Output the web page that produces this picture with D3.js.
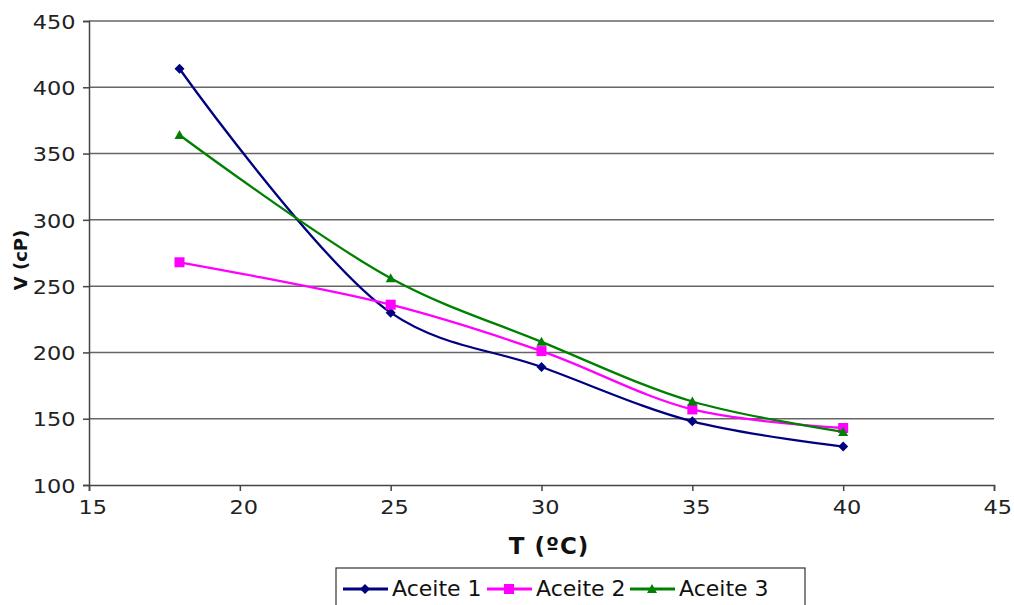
<!DOCTYPE html>
<html><head><meta charset="utf-8">
<script src="https://cdn.jsdelivr.net/npm/d3@7"></script>
<style>body{margin:0;background:#fff}svg{display:block}</style>
</head><body>
<svg id="c" width="1014" height="605"></svg>
<script>
const temps = [18, 25, 30, 35, 40];
const aceite1 = [414, 230, 189, 148, 129];
const aceite2 = [268, 236, 201, 157, 143];
const aceite3 = [364, 256, 208, 163, 140];
const seriesNames = ["Aceite 1", "Aceite 2", "Aceite 3"];
const seriesColors = ["#000080", "#ff00ff", "#008000"];
const seriesValues = [aceite1, aceite2, aceite3];
const xTicks = [15, 20, 25, 30, 35, 40, 45];
const yTicks = [100, 150, 200, 250, 300, 350, 400, 450];

const svg = d3.select("#c");
const L = 89, R = 994, T = 21, B = 485;
const x = d3.scaleLinear().domain([15, 45]).range([L, R]);
const y = d3.scaleLinear().domain([100, 450]).range([B, T]);
const font = "DejaVu Sans, Verdana, sans-serif";

// grid
svg.append("g").selectAll("line").data(yTicks.filter(d => d > 100)).join("line")
  .attr("x1", L).attr("x2", R).attr("y1", d => y(d)).attr("y2", d => y(d))
  .attr("stroke", "#666").attr("stroke-width", 1.5);

// axes
const yAxis = svg.append("g").attr("transform", `translate(${L},0)`)
  .call(d3.axisLeft(y).tickValues(yTicks).tickSize(6).tickPadding(6));
const xAxis = svg.append("g").attr("transform", `translate(0,${B})`)
  .call(d3.axisBottom(x).tickValues(xTicks).tickSize(6).tickPadding(9));
[yAxis, xAxis].forEach(a => {
  a.select(".domain").attr("stroke", "#444").attr("stroke-width", 1.5);
  a.selectAll(".tick line").attr("stroke", "#444").attr("stroke-width", 1.5);
  a.selectAll("text").attr("font-family", font).attr("font-size", 20).attr("fill", "#222")
    .attr("transform", "scale(1.12,1)");
});
yAxis.selectAll("text").attr("dy", "0.36em");
xAxis.selectAll("text").attr("dx", 3);

// axis titles
svg.append("text").attr("x", 549).attr("y", 554).attr("text-anchor", "middle")
  .attr("font-family", font).attr("font-weight", "bold").attr("font-size", 23)
  .attr("letter-spacing", 1).attr("fill", "#111")
  .text("T (ºC)");
svg.append("text").attr("transform", `translate(27,260) rotate(-90)`)
  .attr("text-anchor", "middle")
  .attr("font-family", font).attr("font-weight", "bold").attr("font-size", 18).attr("fill", "#111")
  .text("V (cP)");

// lines
const line = d3.line().x(d => x(d[0])).y(d => y(d[1])).curve(d3.curveCatmullRom.alpha(0.5));
function marker(g, type, color, cx, cy, s) {
  if (type === 0) g.append("path").attr("d", `M${cx},${cy - s}L${cx + s},${cy}L${cx},${cy + s}L${cx - s},${cy}Z`).attr("fill", color);
  else if (type === 1) g.append("rect").attr("x", cx - s).attr("y", cy - s).attr("width", 2 * s).attr("height", 2 * s).attr("fill", color);
  else g.append("path").attr("d", `M${cx},${cy - s}L${cx + s},${cy + s * 0.8}L${cx - s},${cy + s * 0.8}Z`).attr("fill", color);
}
seriesValues.forEach((vals, i) => {
  const pts = temps.map((t, j) => [t, vals[j]]);
  svg.append("path").attr("d", line(pts)).attr("fill", "none")
    .attr("stroke", seriesColors[i]).attr("stroke-width", 2.3);
  const g = svg.append("g");
  pts.forEach(p => marker(g, i, seriesColors[i], x(p[0]), y(p[1]), 5));
});

// legend
svg.append("rect").attr("x", 336).attr("y", 568).attr("width", 469).attr("height", 45)
  .attr("fill", "#fff").attr("stroke", "#333").attr("stroke-width", 1.2);
const legX = [343, 487, 630];
seriesNames.forEach((n, i) => {
  const g = svg.append("g");
  g.append("line").attr("x1", legX[i]).attr("x2", legX[i] + 45).attr("y1", 589).attr("y2", 589)
    .attr("stroke", seriesColors[i]).attr("stroke-width", 3);
  marker(g, i, seriesColors[i], legX[i] + 22, 589, 5);
  g.append("text").attr("x", legX[i] + 49).attr("y", 596).attr("font-family", font)
    .attr("font-size", 22).attr("fill", "#111").text(n);
});
</script>
</body></html>
